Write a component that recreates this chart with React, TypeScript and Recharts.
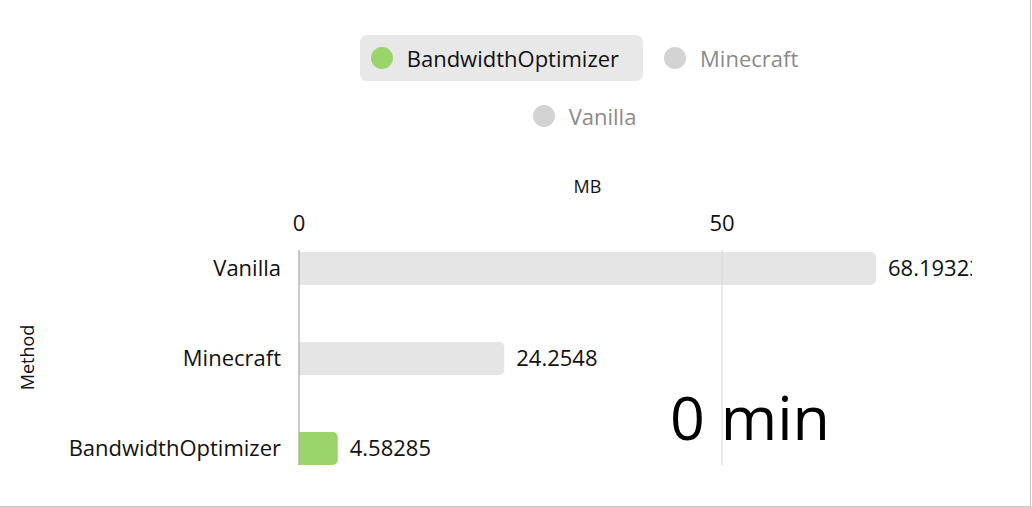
import { Bar, BarChart, Cell, LabelList, ReferenceLine, XAxis, YAxis } from "recharts";

// snapshot of the bandwidth race at t = 0
const methods = ["Vanilla", "Minecraft", "BandwidthOptimizer"];
const megabytes = [68.19323, 24.2548, 4.58285];
const mbTicks = [0, 50];
const gridValues = [50];
const legendOrder = ["BandwidthOptimizer", "Minecraft", "Vanilla"];
const activeMethod = "BandwidthOptimizer";
const elapsed = "0 min";

const ACTIVE = "#9bd46a";
const INACTIVE = "#e5e5e5";
const INK = "#111";
const FONT = "'Open Sans', 'Noto Sans', sans-serif";

const data = methods.map((method, i) => ({ method, mb: megabytes[i] }));

const LegendBar = () => (
  <div
    style={{
      position: "absolute",
      left: 331,
      top: 35,
      width: 520,
      display: "flex",
      flexWrap: "wrap",
      justifyContent: "center",
      rowGap: 12,
      columnGap: 10,
    }}
  >
    {legendOrder.map((name) => {
      const on = name === activeMethod;
      return (
        <div
          key={name}
          style={{
            display: "flex",
            alignItems: "center",
            height: 46,
            padding: "0 24px 0 11px",
            borderRadius: 7,
            background: on ? "#e8e8e8" : "transparent",
          }}
        >
          <span
            style={{
              width: 22,
              height: 22,
              borderRadius: "50%",
              background: on ? ACTIVE : "#d3d3d3",
              marginRight: 14,
            }}
          />
          <span style={{ fontSize: 22, lineHeight: "46px", color: on ? INK : "#8a8a8a" }}>{name}</span>
        </div>
      );
    })}
  </div>
);

export default function App() {
  return (
    <div
      style={{
        position: "absolute",
        top: 0,
        left: 0,
        width: 1030,
        height: 506,
        borderRight: "1px solid #c8c8c8",
        borderBottom: "1px solid #c8c8c8",
        background: "#fff",
        fontFamily: FONT,
      }}
    >
      <LegendBar />
      <BarChart
        width={972}
        height={506}
        data={data}
        layout="vertical"
        margin={{ top: 170, right: 96, bottom: 41, left: 0 }}
        barSize={33}
        style={{ fontFamily: FONT }}
      >
        <XAxis
          type="number"
          orientation="top"
          domain={[0, "dataMax"]}
          ticks={mbTicks}
          height={80}
          axisLine={false}
          tickLine={false}
          tickSize={0}
          tickMargin={19}
          tick={{ fontSize: 22, fill: INK }}
          label={{ value: "MB", position: "insideTop", offset: 10, fontSize: 18, fill: INK }}
        />
        <YAxis
          type="category"
          dataKey="method"
          width={299}
          axisLine={{ stroke: "#999" }}
          tickLine={false}
          tickSize={0}
          tickMargin={18}
          tick={{ fontSize: 22, fill: INK }}
          padding={{ top: -27, bottom: -28 }}
          label={{
            value: "Method",
            angle: -90,
            position: "insideLeft",
            offset: 28,
            fontSize: 18,
            fill: INK,
            style: { textAnchor: "middle" },
          }}
        />
        <Bar dataKey="mb" isAnimationActive={false} radius={[0, 5, 5, 0]}>
          {data.map((d) => (
            <Cell key={d.method} fill={d.method === activeMethod ? ACTIVE : INACTIVE} />
          ))}
          <LabelList dataKey="mb" position="right" offset={12} fontSize={22} fill={INK} />
        </Bar>
        {gridValues.map((v) => (
          <ReferenceLine key={v} x={v} stroke="#d4d4d4" />
        ))}
        <text x={670} y={440} fontSize={61} fill="#000">
          {elapsed}
        </text>
      </BarChart>
    </div>
  );
}
